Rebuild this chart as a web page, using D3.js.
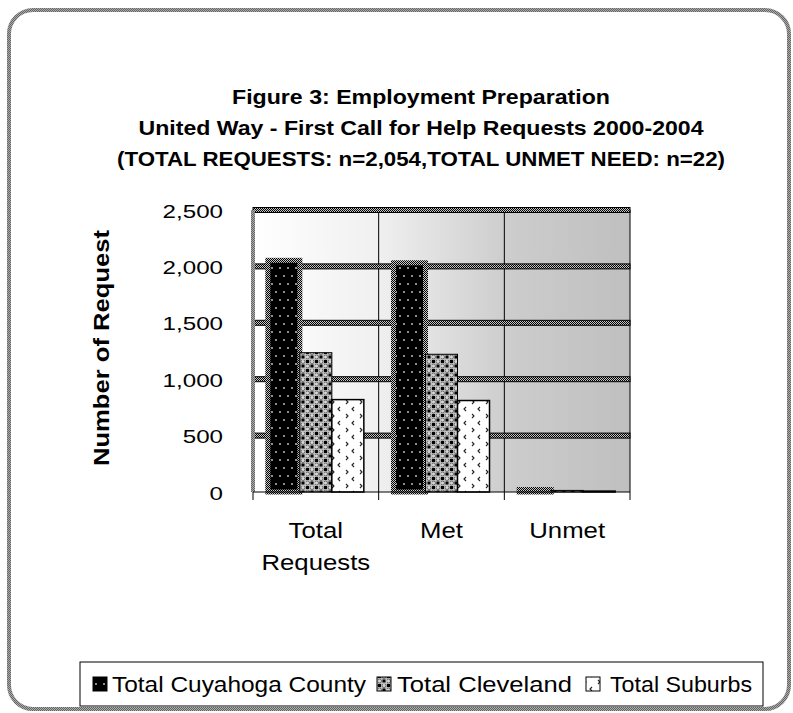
<!DOCTYPE html>
<html><head><meta charset="utf-8">
<script src="https://cdn.jsdelivr.net/npm/d3@7"></script>
<style>body{margin:0;background:#fff}svg{display:block}</style>
</head><body>
<svg id="c" width="793" height="713"></svg>
<script>
const categories = ["Total Requests", "Met", "Unmet"];
const categoryLabels = [["Total", "Requests"], ["Met"], ["Unmet"]];
const series = ["Total Cuyahoga County", "Total Cleveland", "Total Suburbs"];
const cuyahoga = [2054, 2032, 22];
const cleveland = [1235, 1221, 14];
const suburbs = [819, 811, 8];
const yTicks = [0, 500, 1000, 1500, 2000, 2500];
const titleLines = ["Figure 3:  Employment Preparation",
  "United Way - First Call for Help Requests 2000-2004",
  "(TOTAL REQUESTS: n=2,054,TOTAL UNMET NEED: n=22)"];
const yLabel = "Number of Request";

const svg = d3.select("#c");
const defs = svg.append("defs");
const font = "'Liberation Sans', Arial, sans-serif";

function stretch(sel, k){ sel.each(function(){ const w=this.getComputedTextLength(); d3.select(this).attr("textLength", w*k).attr("lengthAdjust","spacingAndGlyphs"); }); }

// patterns
const chk = defs.append("pattern").attr("id","chk").attr("patternUnits","userSpaceOnUse").attr("width",2).attr("height",2);
chk.append("rect").attr("width",2).attr("height",2).attr("fill","#c8c8c8");
chk.append("rect").attr("width",1).attr("height",1).attr("fill","#000");
chk.append("rect").attr("x",1).attr("y",1).attr("width",1).attr("height",1).attr("fill","#000");

const frm = defs.append("pattern").attr("id","frm").attr("patternUnits","userSpaceOnUse").attr("width",2).attr("height",2);
frm.append("rect").attr("width",2).attr("height",2).attr("fill","#aaa");
frm.append("rect").attr("width",1).attr("height",1).attr("fill","#666");
frm.append("rect").attr("x",1).attr("y",1).attr("width",1).attr("height",1).attr("fill","#666");

const p0 = defs.append("pattern").attr("id","p0").attr("patternUnits","userSpaceOnUse").attr("width",16).attr("height",16);
p0.append("rect").attr("width",16).attr("height",16).attr("fill","#000");
[[4,4],[12,4],[8,12],[0,12],[16,12]].forEach(([x,y])=>p0.append("rect").attr("x",x-0.8).attr("y",y-0.8).attr("width",1.6).attr("height",1.6).attr("fill","#ddd"));

const p1 = defs.append("pattern").attr("id","p1").attr("patternUnits","userSpaceOnUse").attr("width",9).attr("height",9);
p1.append("rect").attr("width",9).attr("height",9).attr("fill","#c0c0c0");
p1.append("rect").attr("x",0).attr("y",0).attr("width",3).attr("height",3).attr("fill","#000");
p1.append("rect").attr("x",4.5).attr("y",4.5).attr("width",3).attr("height",3).attr("fill","#000");
p1.append("circle").attr("cx",6).attr("cy",1.5).attr("r",2).attr("fill","#d8d8d8").attr("stroke","#444").attr("stroke-width",0.7);
p1.append("circle").attr("cx",1.5).attr("cy",6).attr("r",2).attr("fill","#d8d8d8").attr("stroke","#444").attr("stroke-width",0.7);

const p2 = defs.append("pattern").attr("id","p2").attr("patternUnits","userSpaceOnUse").attr("width",14).attr("height",14);
p2.append("rect").attr("width",14).attr("height",14).attr("fill","#fff");
p2.append("path").attr("d","M4,1 L2,3 L4,5 M10,8 L12,10 L10,12").attr("fill","none").attr("stroke","#222").attr("stroke-width",1.1);

const grad = defs.append("linearGradient").attr("id","bg").attr("x1","0").attr("x2","1").attr("y1","0").attr("y2","0");
[[0,"#ffffff"],[0.33,"#f0f0f0"],[0.67,"#cdcdcd"],[1,"#bfbfbf"]].forEach(([o,c])=>grad.append("stop").attr("offset",o).attr("stop-color",c));

// outer frame
svg.append("rect").attr("x",9).attr("y",10).attr("width",780).attr("height",699).attr("rx",24)
  .attr("fill","#fff").attr("stroke","url(#frm)").attr("stroke-width",4);

// title
const titleW = [378, 565, 608];
svg.append("g").selectAll("text").data(titleLines).join("text")
  .attr("x",421).attr("y",(d,i)=>104+i*31).attr("text-anchor","middle")
  .attr("font-family",font).attr("font-weight","bold").attr("font-size",20)
  .attr("textLength",(d,i)=>titleW[i]).attr("lengthAdjust","spacingAndGlyphs")
  .text(d=>d);

const L=253,R=630,T=210,B=492;
const x = d3.scaleBand().domain(categories).range([L,R]);
const xs = d3.scaleBand().domain(series).range([x.bandwidth()*0.118, x.bandwidth()*0.882]);
const y = d3.scaleLinear().domain([0,2500]).range([B,T]);

// plot background
svg.append("rect").attr("x",L).attr("y",T).attr("width",R-L).attr("height",B-T).attr("fill","url(#bg)");

// vertical category lines
svg.append("g").selectAll("line").data(categories).join("line")
  .attr("x1",d=>x(d)+x.bandwidth()).attr("x2",d=>x(d)+x.bandwidth())
  .attr("y1",T).attr("y2",B+8).attr("stroke","#000").attr("stroke-width",1);

// gridlines
svg.append("g").selectAll("rect").data(yTicks.slice(1)).join("rect")
  .attr("x",L).attr("width",R-L).attr("y",d=>y(d)-2.5).attr("height",5)
  .attr("fill","url(#chk)").attr("stroke","#000").attr("stroke-width",1);

// bars
const vals = [cuyahoga, cleveland, suburbs];
const fills = ["url(#p0)","url(#p1)","url(#p2)"];
const g = svg.append("g");
categories.forEach((c,ci)=>{
  const v = vals[0][ci], s = series[0];
  g.append("rect").attr("x",x(c)+xs(s)).attr("width",xs.bandwidth())
    .attr("y",y(v)).attr("height",B-y(v)).attr("fill",fills[0])
    .attr("stroke","url(#chk)").attr("stroke-width",5);
});
categories.forEach((c,ci)=>{
  [1,2].forEach(si=>{
    const v = vals[si][ci]; const s=series[si];
    g.append("rect").attr("x",x(c)+xs(s)).attr("width",xs.bandwidth())
      .attr("y",y(v)).attr("height",B-y(v)).attr("fill",fills[si])
      .attr("stroke","#000").attr("stroke-width",si===1?1:1.5);
  });
});

// left axis band
svg.append("rect").attr("x",L-2).attr("y",T).attr("width",4).attr("height",B-T).attr("fill","url(#frm)");
// x axis line + ticks
svg.append("line").attr("x1",L).attr("x2",R).attr("y1",B).attr("y2",B).attr("stroke","#000").attr("stroke-width",1.2);
svg.append("line").attr("x1",L).attr("x2",L).attr("y1",B).attr("y2",B+8).attr("stroke","#000");

// y tick labels
const yt = svg.append("g").selectAll("text").data(yTicks).join("text")
  .attr("x",223).attr("y",d=>y(d)+7.5).attr("text-anchor","end")
  .attr("font-family",font).attr("font-size",19).text(d=>d3.format(",")(d));
stretch(yt, 1.27);

// y label
svg.append("text").attr("transform","translate(109,348) rotate(-90)").attr("text-anchor","middle")
  .attr("font-family",font).attr("font-weight","bold").attr("font-size",22)
  .attr("textLength",236).attr("lengthAdjust","spacingAndGlyphs").text(yLabel);

// x labels
const xl = svg.append("g");
categories.forEach((c,ci)=>{
  categoryLabels[ci].forEach((t,li)=>{
    const tx = xl.append("text").attr("x",x(c)+x.bandwidth()/2).attr("y",538+li*32).attr("text-anchor","middle")
      .attr("font-family",font).attr("font-size",22).text(t);
    stretch(tx, 1.17);
  });
});

// legend
const lg = svg.append("g");
lg.append("rect").attr("x",80).attr("y",662).attr("width",683).attr("height",44).attr("fill","#fff").attr("stroke","#000").attr("stroke-width",1);
const sqX = [93, 377, 586];
const txX = [112, 397, 610];
const txW = [254, 175, 142];
series.forEach((s,si)=>{
  lg.append("rect").attr("x",sqX[si]).attr("y",677).attr("width",14).attr("height",14).attr("fill",fills[si]).attr("stroke","#000").attr("stroke-width",1);
  lg.append("text").attr("x",txX[si]).attr("y",692).attr("font-family",font).attr("font-size",22)
    .attr("textLength",txW[si]).attr("lengthAdjust","spacingAndGlyphs").text(s);
});
</script>
</body></html>
